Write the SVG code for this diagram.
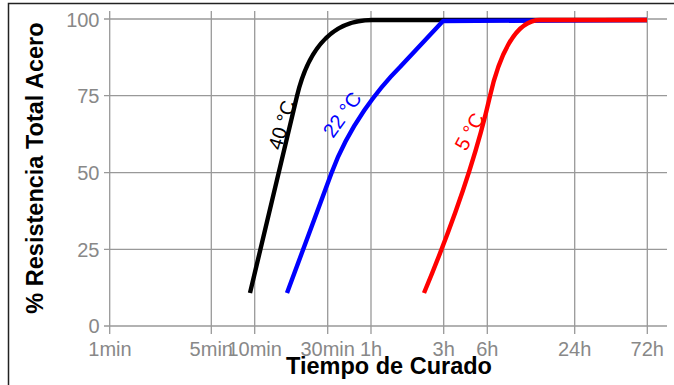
<svg xmlns="http://www.w3.org/2000/svg" width="674" height="385" viewBox="0 0 674 385">
<style>
.grid line{stroke:#999;stroke-width:1.3}
.tick{font-family:"Liberation Sans",Arial,sans-serif;font-size:20px;fill:#888}
.ylab{text-anchor:end}
.xlab{text-anchor:middle}
.title{font-family:"Liberation Sans",Arial,sans-serif;font-size:23.5px;font-weight:bold;fill:#000;text-anchor:middle}
.curve{fill:none;stroke-width:4.4;stroke-linejoin:round}
.clab{font-family:"Liberation Sans",Arial,sans-serif;font-size:20px}
</style>
<rect width="674" height="385" fill="#fff"/>
<g id="grid" class="grid">
<line x1="104" y1="19" x2="667" y2="19"/>
<line x1="104" y1="95.7" x2="667" y2="95.7"/>
<line x1="104" y1="172.7" x2="667" y2="172.7"/>
<line x1="104" y1="249.3" x2="667" y2="249.3"/>
<line x1="104" y1="326" x2="667" y2="326"/>
<line x1="109.7" y1="11" x2="109.7" y2="334"/>
<line x1="211.3" y1="11" x2="211.3" y2="334"/>
<line x1="254.7" y1="11" x2="254.7" y2="334"/>
<line x1="327.7" y1="11" x2="327.7" y2="334"/>
<line x1="371" y1="11" x2="371" y2="334"/>
<line x1="443.7" y1="11" x2="443.7" y2="334"/>
<line x1="487.3" y1="11" x2="487.3" y2="334"/>
<line x1="574.7" y1="11" x2="574.7" y2="334"/>
<line x1="647.3" y1="11" x2="647.3" y2="334"/>
</g>
<g id="yticks" class="tick ylab">
<text x="99.5" y="26.5">100</text>
<text x="99.5" y="103">75</text>
<text x="99.5" y="180">50</text>
<text x="99.5" y="256.5">25</text>
<text x="99.5" y="333">0</text>
</g>
<g id="xticks" class="tick xlab">
<text x="110" y="356">1min</text>
<text x="211.3" y="356">5min</text>
<text x="254.7" y="356">10min</text>
<text x="327.7" y="356">30min</text>
<text x="371" y="356">1h</text>
<text x="443.7" y="356">3h</text>
<text x="487.3" y="356">6h</text>
<text x="574.7" y="356">24h</text>
<text x="647.3" y="356">72h</text>
</g>
<g id="connectors">
<path id="c40" class="curve" stroke="#000" d="M250,293 L297,96 C306.3,57.1 327,20 372,20 L647,20"/>
<path id="c22" class="curve" stroke="#0000ff" d="M287,293 L331.5,173 C348.9,126.1 378.8,88.2 400,67 L443,21 L647,20"/>
<path id="c5" class="curve" stroke="#ff0000" d="M424,293 C449,233 475.6,159.4 490,96 C498.9,57 515,20 540,20 L647,20"/>
</g>
<g id="label40"><text class="clab" fill="#000" transform="translate(281,151) rotate(-73)">40 °C</text></g>
<g id="label22"><text class="clab" fill="#0000ff" transform="translate(333,139) rotate(-54)">22 °C</text></g>
<g id="label5"><text class="clab" fill="#ff0000" transform="translate(466,152) rotate(-61)">5 °C</text></g>
<g id="ytitle"><text class="title" transform="translate(43,168) rotate(-90)">% Resistencia Total Acero</text></g>
<g id="xtitle"><text class="title" x="389" y="374">Tiempo de Curado</text></g>
<path id="frame" d="M8.5,385 V3.5 H674" fill="none" stroke="#222" stroke-width="1.5"/>
</svg>
